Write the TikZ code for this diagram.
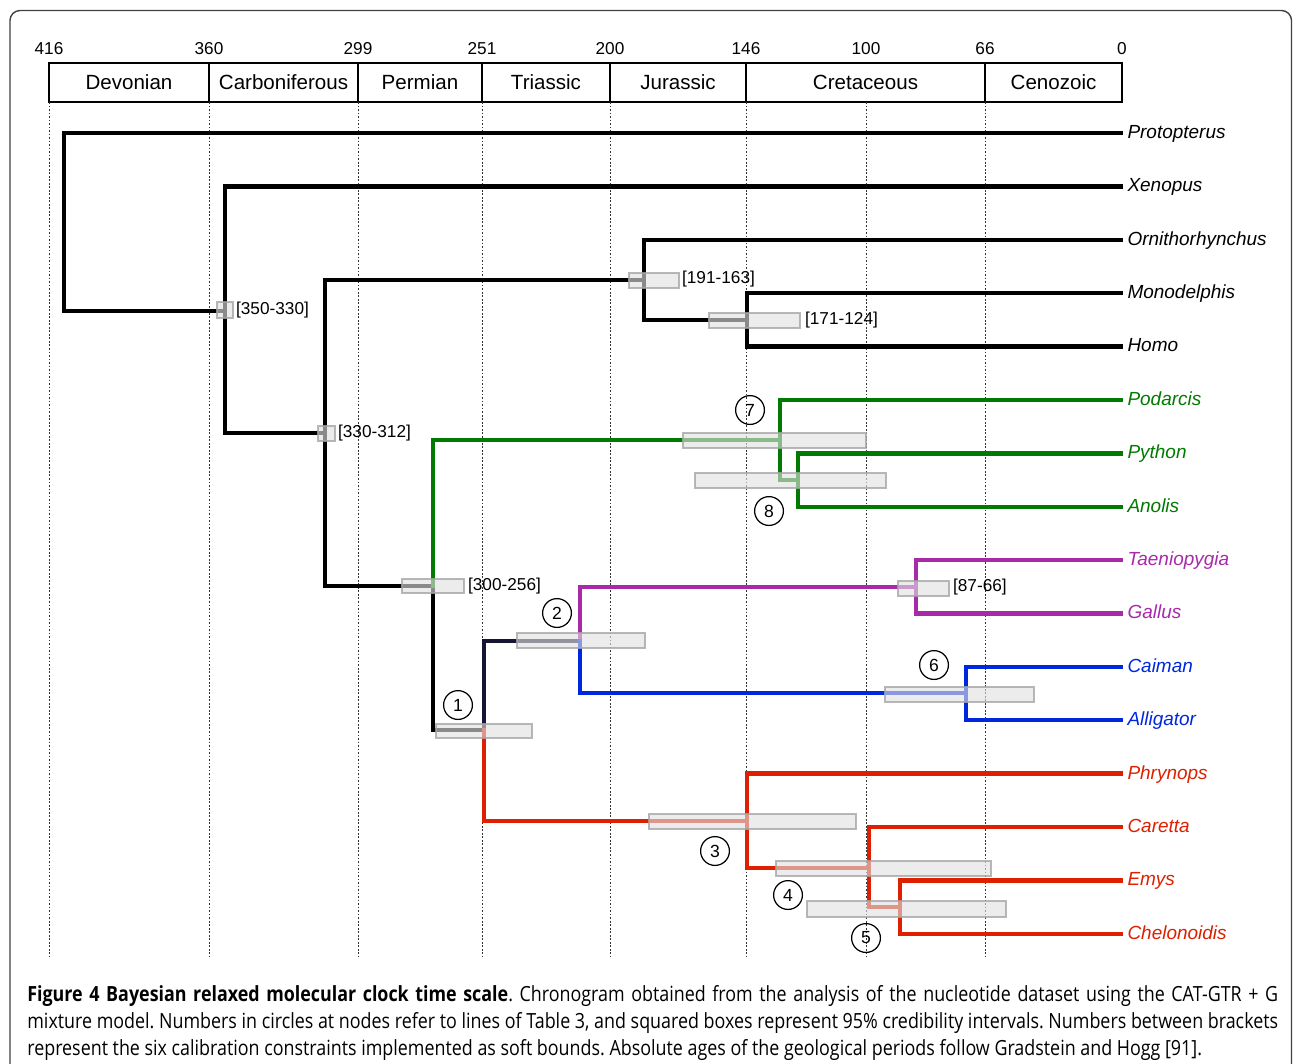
\documentclass[tikz,border=0pt]{standalone}
\usepackage{fontspec}
\setmainfont{Liberation Sans}
\newfontfamily\capfont[FakeStretch=0.855]{Open Sans}
\usetikzlibrary{positioning}
\definecolor{sqgreen}{RGB}{0,122,0}
\definecolor{avpurple}{RGB}{168,42,168}
\definecolor{crblue}{RGB}{0,38,222}
\definecolor{tured}{RGB}{220,32,0}
\definecolor{archnavy}{RGB}{22,22,52}

\begin{document}
\begin{tikzpicture}[x=0.02cm, y=-0.02cm, node distance=1.068cm,
  branch/.style={line width=2.5pt, line cap=rect},
  taxon/.style={font=\fontsize{10.8}{13}\selectfont\itshape, anchor=west, inner xsep=3.5pt, inner ysep=0pt, text height=1.6ex, text depth=.45ex},
  ci/.style={fill=black!12, draw=black!35, line width=1pt, fill opacity=0.62, draw opacity=0.8},
  cal/.style={font=\fontsize{9.8}{12}\selectfont, anchor=west, inner sep=1pt},
  num/.style={draw, circle, line width=0.7pt, minimum size=16.4pt, inner sep=0pt, font=\fontsize{10}{12}\selectfont},
  period/.style={font=\fontsize{11.7}{14}\selectfont},
  age/.style={font=\fontsize{9.8}{12}\selectfont},
  ageline/.style={line width=0.5pt, dash pattern=on 1pt off 1pt, black!80}]
\useasboundingbox (0,0) rectangle (1293,1063);
\draw[black!75, line width=0.8pt, rounded corners=5.7pt] (10,10.5) rectangle (1291.5,1085);

% time scale
\node[age] (a416) at (49,49) {416};
\node[age] (a360) at (209,49) {360};
\node[age] (a299) at (358,49) {299};
\node[age] (a251) at (482,49) {251};
\node[age] (a200) at (610,49) {200};
\node[age] (a146) at (746,49) {146};
\node[age] (a100) at (866,49) {100};
\node[age] (a66) at (985,49) {66};
\node[age] (a0) at (1122,49) {0};
\draw[line width=0.8pt] (49,63) rectangle (1122,102);
\draw[line width=0.8pt] (209,63) -- (209,102);
\draw[line width=0.8pt] (358,63) -- (358,102);
\draw[line width=0.8pt] (482,63) -- (482,102);
\draw[line width=0.8pt] (610,63) -- (610,102);
\draw[line width=0.8pt] (746,63) -- (746,102);
\draw[line width=0.8pt] (985,63) -- (985,102);
\node[period] (Devonian) at (129,82.5) {Devonian};
\node[period] (Carboniferous) at (283.5,82.5) {Carboniferous};
\node[period] (Permian) at (420,82.5) {Permian};
\node[period] (Triassic) at (546,82.5) {Triassic};
\node[period] (Jurassic) at (678,82.5) {Jurassic};
\node[period] (Cretaceous) at (865.5,82.5) {Cretaceous};
\node[period] (Cenozoic) at (1053.5,82.5) {Cenozoic};
\draw[ageline] (49,102) -- (49,957);
\draw[ageline] (209,102) -- (209,957);
\draw[ageline] (358,102) -- (358,957);
\draw[ageline] (482,102) -- (482,957);
\draw[ageline] (610,102) -- (610,957);
\draw[ageline] (746,102) -- (746,957);
\draw[ageline] (866,102) -- (866,957);
\draw[ageline] (985,102) -- (985,957);

% taxa
\node[taxon] (Protopterus) at (1121,133) {Protopterus};
\node[taxon] (Xenopus) [below=of Protopterus.west, anchor=west] {Xenopus};
\node[taxon] (Ornithorhynchus) [below=of Xenopus.west, anchor=west] {Ornithorhynchus};
\node[taxon] (Monodelphis) [below=of Ornithorhynchus.west, anchor=west] {Monodelphis};
\node[taxon] (Homo) [below=of Monodelphis.west, anchor=west] {Homo};
\node[taxon, sqgreen] (Podarcis) [below=of Homo.west, anchor=west] {Podarcis};
\node[taxon, sqgreen] (Python) [below=of Podarcis.west, anchor=west] {Python};
\node[taxon, sqgreen] (Anolis) [below=of Python.west, anchor=west] {Anolis};
\node[taxon, avpurple] (Taeniopygia) [below=of Anolis.west, anchor=west] {Taeniopygia};
\node[taxon, avpurple] (Gallus) [below=of Taeniopygia.west, anchor=west] {Gallus};
\node[taxon, crblue] (Caiman) [below=of Gallus.west, anchor=west] {Caiman};
\node[taxon, crblue] (Alligator) [below=of Caiman.west, anchor=west] {Alligator};
\node[taxon, tured] (Phrynops) [below=of Alligator.west, anchor=west] {Phrynops};
\node[taxon, tured] (Caretta) [below=of Phrynops.west, anchor=west] {Caretta};
\node[taxon, tured] (Emys) [below=of Caretta.west, anchor=west] {Emys};
\node[taxon, tured] (Chelonoidis) [below=of Emys.west, anchor=west] {Chelonoidis};

% inner nodes
\coordinate (nRoot) at (64,311);
\coordinate (nTetra) at (225,311);
\coordinate (nAmnio) at (325,433);
\coordinate (nMammal) at (644,280);
\coordinate (nTheria) at (747,320);
\coordinate (nSauro) at (433,586);
\coordinate (nSquam) at (780,440);
\coordinate (nToxi) at (798,480);
\coordinate (nArchelo) at (484,730);
\coordinate (nArcho) at (580,641);
\coordinate (nAves) at (916,587);
\coordinate (nCroc) at (966,693);
\coordinate (nTestud) at (747,821);
\coordinate (nCrypto) at (869,868);
\coordinate (nTestu) at (900,907);

\draw[branch] (nRoot) |- (Protopterus.west);
\draw[branch] (nRoot) |- (nTetra);
\draw[branch] (nTetra) |- (Xenopus.west);
\draw[branch] (nTetra) |- (nAmnio);
\draw[branch] (nAmnio) |- (nMammal);
\draw[branch] (nAmnio) |- (nSauro);
\draw[branch] (nMammal) |- (Ornithorhynchus.west);
\draw[branch] (nMammal) |- (nTheria);
\draw[branch] (nTheria) |- (Monodelphis.west);
\draw[branch] (nTheria) |- (Homo.west);
\draw[branch] (nSauro) |- (nArchelo);
\draw[branch, sqgreen] (nSauro) |- (nSquam);
\draw[branch, sqgreen] (nSquam) |- (Podarcis.west);
\draw[branch, sqgreen] (nSquam) |- (nToxi);
\draw[branch, sqgreen] (nToxi) |- (Python.west);
\draw[branch, sqgreen] (nToxi) |- (Anolis.west);
\draw[branch, archnavy] (nArchelo) |- (nArcho);
\draw[branch, avpurple] (nArcho) |- (nAves);
\draw[branch, avpurple] (nAves) |- (Taeniopygia.west);
\draw[branch, avpurple] (nAves) |- (Gallus.west);
\draw[branch, crblue] (nArcho) |- (nCroc);
\draw[branch, crblue] (nCroc) |- (Caiman.west);
\draw[branch, crblue] (nCroc) |- (Alligator.west);
\draw[branch, tured] (nArchelo) |- (nTestud);
\draw[branch, tured] (nTestud) |- (Phrynops.west);
\draw[branch, tured] (nTestud) |- (nCrypto);
\draw[branch, tured] (nCrypto) |- (Caretta.west);
\draw[branch, tured] (nCrypto) |- (nTestu);
\draw[branch, tured] (nTestu) |- (Emys.west);
\draw[branch, tured] (nTestu) |- (Chelonoidis.west);

% 95% intervals
\draw[ci] (217,302) rectangle (233,318);
\draw[ci] (318,426) rectangle (335,441);
\draw[ci] (629,273) rectangle (679,288);
\draw[ci] (709,313) rectangle (800,328);
\draw[ci] (402,579) rectangle (464,593);
\draw[ci] (683,433) rectangle (866,448);
\draw[ci] (695,473) rectangle (886,488);
\draw[ci] (436,724) rectangle (532,738);
\draw[ci] (517,633) rectangle (645,648);
\draw[ci] (898,581) rectangle (949,596);
\draw[ci] (885,687) rectangle (1034,702);
\draw[ci] (649,814) rectangle (856,829);
\draw[ci] (776,861) rectangle (991,876);
\draw[ci] (807,901) rectangle (1006,917);

% calibrations
\node[cal] (calTetra) at (234,310) {[350-330]};
\node[cal] (calAmnio) at (336,433) {[330-312]};
\node[cal] (calMammal) at (680,279) {[191-163]};
\node[cal] (calTheria) at (803,320) {[171-124]};
\node[cal] (calSauro) at (466,586) {[300-256]};
\node[cal] (calAves) at (951,587) {[87-66]};

% table 3 lines
\node[num] (k1) at (458,705) {1};
\node[num] (k2) at (557,613) {2};
\node[num] (k3) at (715,851) {3};
\node[num] (k4) at (788,895) {4};
\node[num] (k5) at (866,938) {5};
\node[num] (k6) at (934,665) {6};
\node[num] (k7) at (750,410) {7};
\node[num] (k8) at (769,511) {8};

\node[anchor=north west, inner sep=0pt, text width=25.02cm, align=justify, font=\capfont\fontsize{11.9}{15.3}\selectfont] (caption) at (27,985) {\frenchspacing\tolerance=9999\hyphenpenalty=10000\textbf{Figure 4 Bayesian relaxed molecular clock time scale}. Chronogram obtained from the analysis of the nucleotide dataset using the CAT-GTR + G\linebreak mixture model. Numbers in circles at nodes refer to lines of Table 3, and squared boxes represent 95\% credibility intervals. Numbers between brackets\linebreak represent the six calibration constraints implemented as soft bounds. Absolute ages of the geological periods follow Gradstein and Hogg [91].};
\end{tikzpicture}
\end{document}
